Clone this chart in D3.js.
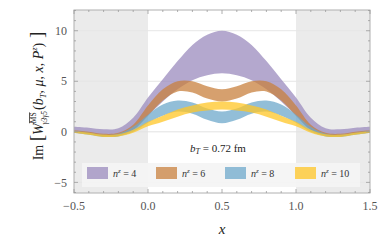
<!DOCTYPE html>
<html>
<head>
<meta charset="utf-8">
<script src="https://cdn.jsdelivr.net/npm/d3@7"></script>
<style>
  html, body { margin: 0; padding: 0; background: #fff; }
  svg { display: block; }
  text { font-family: "Liberation Serif", "DejaVu Serif", serif; }
</style>
</head>
<body>
<div id="chart"></div>
<script>
// x grid of the bands
const xs = [-0.5, -0.4, -0.3, -0.2, -0.1, 0.0, 0.1, 0.2, 0.3, 0.4, 0.5,
            0.6, 0.7, 0.8, 0.9, 1.0, 1.1, 1.2, 1.3, 1.4, 1.5];

// band edges, one pair per n^z
const n4Hi  = [0.5, 0.4, 0.25, 0.35, 1.4, 3.4, 5.2, 7.0, 8.6, 9.6, 10.0, 9.6, 8.6, 7.0, 5.2, 3.4, 1.4, 0.35, 0.25, 0.4, 0.5];
const n4Lo  = [0.0, -0.15, -0.3, -0.3, 0.2, 1.6, 3.0, 4.2, 5.1, 5.6, 5.8, 5.6, 5.1, 4.2, 3.0, 1.6, 0.2, -0.3, -0.3, -0.15, 0.0];
const n6Hi  = [0.15, 0.0, -0.2, -0.1, 0.7, 2.6, 4.2, 5.0, 5.0, 4.5, 4.2, 4.5, 5.0, 5.0, 4.2, 2.6, 0.7, -0.1, -0.2, 0.0, 0.15];
const n6Lo  = [-0.1, -0.25, -0.45, -0.4, 0.2, 1.6, 3.1, 4.0, 3.9, 3.3, 3.0, 3.3, 3.9, 4.0, 3.1, 1.6, 0.2, -0.4, -0.45, -0.25, -0.1];
const n8Hi  = [0.1, -0.1, -0.3, -0.2, 0.5, 1.7, 2.7, 3.1, 2.9, 2.3, 2.0, 2.3, 2.9, 3.1, 2.7, 1.7, 0.5, -0.2, -0.3, -0.1, 0.1];
const n8Lo  = [-0.1, -0.3, -0.5, -0.45, 0.0, 0.9, 1.6, 2.0, 1.8, 1.2, 0.85, 1.2, 1.8, 2.0, 1.6, 0.9, 0.0, -0.45, -0.5, -0.3, -0.1];
const n10Hi = [0.05, -0.1, -0.3, -0.25, 0.2, 1.0, 1.6, 2.2, 2.6, 2.9, 3.0, 2.9, 2.6, 2.2, 1.6, 1.0, 0.2, -0.25, -0.3, -0.1, 0.05];
const n10Lo = [-0.1, -0.3, -0.5, -0.45, -0.1, 0.55, 1.0, 1.5, 1.9, 2.1, 2.2, 2.1, 1.9, 1.5, 1.0, 0.55, -0.1, -0.45, -0.5, -0.3, -0.1];

const seriesNames = ['n4', 'n6', 'n8', 'n10'];
const legendLabels = ['4', '6', '8', '10'];
const xTicks = [-0.5, 0.0, 0.5, 1.0, 1.5];
const yTicks = [-5, 0, 5, 10];

const bands = {
  n4: [n4Lo, n4Hi], n6: [n6Lo, n6Hi], n8: [n8Lo, n8Hi], n10: [n10Lo, n10Hi]
};
const colors = { n4: '#9b8bbd', n6: '#c8803e', n8: '#6da8cb', n10: '#ffc626' };

const W = 382, H = 243;
const margin = { top: 10, right: 12, bottom: 50, left: 74 };
const width = W - margin.left - margin.right;
const height = H - margin.top - margin.bottom;

const svg = d3.select('#chart').append('svg')
  .attr('width', W).attr('height', H);

const g = svg.append('g')
  .attr('transform', `translate(${margin.left},${margin.top})`);

const x = d3.scaleLinear().domain([-0.5, 1.5]).range([0, width]);
const y = d3.scaleLinear().domain([-6.05, 12.05]).range([height, 0]);

// grey background outside the physical region
g.append('rect').attr('x', 0).attr('y', 0)
  .attr('width', x(0)).attr('height', height).attr('fill', '#ebebeb');
g.append('rect').attr('x', x(1)).attr('y', 0)
  .attr('width', width - x(1)).attr('height', height).attr('fill', '#ebebeb');

// faint grid
g.append('g').selectAll('line').data(yTicks).enter().append('line')
  .attr('x1', 0).attr('x2', width)
  .attr('y1', d => y(d)).attr('y2', d => y(d))
  .attr('stroke', d => d === 0 ? '#e2e2e2' : '#e6e6e6').attr('stroke-width', 1);

// bands
const area = d3.area()
  .x((d, i) => x(xs[i]))
  .y0(d => y(d[0]))
  .y1(d => y(d[1]))
  .curve(d3.curveCatmullRom.alpha(0.5));

seriesNames.forEach(k => {
  const [lo, hi] = bands[k];
  const pts = xs.map((_, i) => [lo[i], hi[i]]);
  g.append('path')
    .datum(pts)
    .attr('d', area)
    .attr('fill', colors[k])
    .attr('fill-opacity', 0.75);
});

// frame
g.append('rect').attr('width', width).attr('height', height)
  .attr('fill', 'none').attr('stroke', '#b0b0b0').attr('stroke-width', 1);

// ticks, all four sides, inward
const tickColor = '#9a9a9a';
const xMinor = d3.range(-5, 16).map(d => d / 10);
const yMinor = d3.range(-6, 13);
const tk = g.append('g').attr('stroke', tickColor).attr('stroke-width', 0.8);
xMinor.forEach(v => {
  const major = xTicks.some(t => Math.abs(t - v) < 1e-9);
  const len = major ? 4 : 2;
  tk.append('line').attr('x1', x(v)).attr('x2', x(v)).attr('y1', height).attr('y2', height - len);
  tk.append('line').attr('x1', x(v)).attr('x2', x(v)).attr('y1', 0).attr('y2', len);
});
yMinor.forEach(v => {
  const len = v % 5 === 0 ? 4 : 2;
  tk.append('line').attr('x1', 0).attr('x2', len).attr('y1', y(v)).attr('y2', y(v));
  tk.append('line').attr('x1', width).attr('x2', width - len).attr('y1', y(v)).attr('y2', y(v));
});

// tick labels
g.append('g').selectAll('text').data(xTicks).enter().append('text')
  .attr('x', d => x(d)).attr('y', height + 17)
  .attr('text-anchor', 'middle').attr('font-size', 12).attr('fill', '#555')
  .text(d => d3.format('.1f')(d).replace('-', '\u2212'));

g.append('g').selectAll('text').data(yTicks).enter().append('text')
  .attr('x', -7).attr('y', d => y(d)).attr('dy', '0.35em')
  .attr('text-anchor', 'end').attr('font-size', 12).attr('fill', '#555')
  .text(d => String(d).replace('-', '\u2212'));

// b_T annotation
const bt = g.append('text')
  .attr('x', x(0.5) - 4).attr('y', y(-2.0)).attr('text-anchor', 'middle')
  .attr('font-size', 11).attr('fill', '#222');
bt.append('tspan').attr('font-style', 'italic').text('b');
bt.append('tspan').attr('font-style', 'italic').attr('font-size', 8).attr('dy', 2).text('T');
bt.append('tspan').attr('dy', -2).text(' = 0.72 fm');

// legend
const lg = g.append('g').attr('transform', `translate(${82 - margin.left},${163 - margin.top})`);
lg.append('rect').attr('width', 278).attr('height', 24)
  .attr('fill', '#f4f4f4').attr('fill-opacity', 0.92);
const legX = [5, 74, 143, 213];
seriesNames.forEach((k, i) => {
  const it = lg.append('g').attr('transform', `translate(${legX[i]},4)`);
  it.append('rect').attr('width', 21).attr('height', 12)
    .attr('fill', colors[k]).attr('fill-opacity', 0.75);
  const t = it.append('text').attr('x', 26).attr('y', 10)
    .attr('font-size', 10).attr('fill', '#333');
  t.append('tspan').attr('font-style', 'italic').text('n');
  t.append('tspan').attr('font-style', 'italic').attr('font-size', 7).attr('dy', -4).text('z');
  t.append('tspan').attr('dy', 4).text(' = ' + legendLabels[i]);
});

// x axis label
svg.append('text')
  .attr('x', margin.left + x(0.5)).attr('y', 234)
  .attr('text-anchor', 'middle').attr('font-size', 15).attr('font-style', 'italic')
  .attr('fill', '#222').text('x');

// y axis label
const yl = svg.append('text')
  .attr('transform', `translate(43,96) rotate(-90)`)
  .attr('text-anchor', 'middle').attr('font-size', 14).attr('fill', '#222');
yl.append('tspan').text('Im ');
yl.append('tspan').attr('font-size', 19).text('[');
yl.append('tspan').attr('font-style', 'italic').text('W');
yl.append('tspan').attr('font-size', 7.5).attr('dy', -7).attr('text-decoration', 'overline').text('MS');
yl.append('tspan').attr('font-size', 7.5).attr('dx', -12).attr('dy', 11).attr('font-style', 'italic').text('γ3γ5');
yl.append('tspan').attr('dy', -4).attr('dx', 1).text('(');
yl.append('tspan').attr('font-style', 'italic').text('b');
yl.append('tspan').attr('font-style', 'italic').attr('font-size', 8.5).attr('dy', 3).text('T');
yl.append('tspan').attr('dy', -3).text(', ');
yl.append('tspan').attr('font-style', 'italic').text('μ');
yl.append('tspan').text(', ');
yl.append('tspan').attr('font-style', 'italic').text('x');
yl.append('tspan').text(', ');
yl.append('tspan').attr('font-style', 'italic').text('P');
yl.append('tspan').attr('font-style', 'italic').attr('font-size', 8.5).attr('dy', -6).text('z');
yl.append('tspan').attr('dy', 6).text(')');
yl.append('tspan').attr('font-size', 19).text(' ]');
</script>
</body>
</html>
